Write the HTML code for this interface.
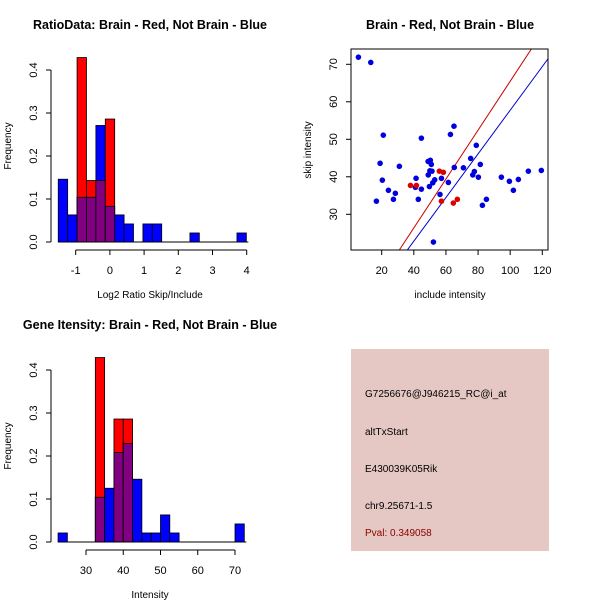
<!DOCTYPE html>
<html><head><meta charset="utf-8"><style>
html,body{margin:0;padding:0;background:#fff;}
svg{display:block;font-family:"Liberation Sans",Arial,sans-serif;}
</style></head><body>
<svg id="chart" width="600" height="600" viewBox="0 0 600 600">
<rect x="0" y="0" width="600" height="600" fill="#fff"/>
<text x="150" y="29" font-size="12.5" font-weight="bold" text-anchor="middle">RatioData: Brain - Red, Not Brain - Blue</text>
<text x="150" y="298" font-size="10" text-anchor="middle">Log2 Ratio Skip/Include</text>
<text x="0" y="0" font-size="10" text-anchor="middle" transform="translate(11,146) rotate(-90)">Frequency</text>
<text x="450" y="29" font-size="12.5" font-weight="bold" text-anchor="middle">Brain - Red, Not Brain - Blue</text>
<text x="450" y="298" font-size="10" text-anchor="middle">include intensity</text>
<text x="0" y="0" font-size="10" text-anchor="middle" transform="translate(311,150) rotate(-90)">skip intensity</text>
<text x="150" y="329" font-size="12.5" font-weight="bold" text-anchor="middle">Gene Itensity: Brain - Red, Not Brain - Blue</text>
<text x="150" y="598" font-size="10" text-anchor="middle">Intensity</text>
<text x="0" y="0" font-size="10" text-anchor="middle" transform="translate(11,446) rotate(-90)">Frequency</text>
<g>
<rect x="351" y="349" width="198" height="202" fill="#e5c8c3"/>
<text x="365" y="397" font-size="10">G7256676@J946215_RC@i_at</text>
<text x="365" y="435" font-size="10">altTxStart</text>
<text x="365" y="472" font-size="10">E430039K05Rik</text>
<text x="365" y="509" font-size="10">chr9.25671-1.5</text>
<text x="365" y="536" font-size="10" fill="#8b0000">Pval: 0.349058</text>
</g>
</svg>
<script>
// ratio histogram data
const ratioBinStart = -1.51;
const ratioBinWidth = 0.275;
const ratioBlue = [0.146,0.063,0.104,0.104,0.271,0.083,0.063,0.042,0,0.042,0.042,0,0,0,0.021,0,0,0,0,0.021];
const ratioRed  = [0,0,0.429,0.143,0.143,0.286,0,0,0,0,0,0,0,0,0,0,0,0,0,0];
const ratioXTicks = [-1,0,1,2,3,4];
const freqTicks = [0,0.1,0.2,0.3,0.4];
// intensity histogram data
const intBinStart = 22.5;
const intBinWidth = 2.5;
const intBlue = [0.021,0,0,0,0.104,0.125,0.208,0.229,0.146,0.021,0.021,0.063,0.021,0,0,0,0,0,0,0.042];
const intRed  = [0,0,0,0,0.429,0,0.286,0.286,0,0,0,0,0,0,0,0,0,0,0,0];
const intXTicks = [30,40,50,60,70];
// scatter data
const blueX = [5.5,13.2,21,19,20.4,16.7,24.2,28.5,27.3,31,41.4,41,42.8,44.7,44.7,48.9,50.3,50.9,49,50,51.3,49.7,51.8,53,52.2,56.3,57.2,61.5,62.8,65,65.2,70.9,75.4,76.7,77.7,78.9,80.2,81.4,82.7,85.2,94.5,99.5,102,105.1,111.3,119.4];
const blueY = [71.9,70.5,51.1,43.6,39.1,33.5,36.4,35.6,34,42.8,39.6,37.2,34,36.7,50.3,44.1,44.4,43.3,40.5,41.6,41.5,37.4,38.4,39.2,22.6,35.3,39.6,38.5,51.3,53.5,42.5,42.4,44.9,40.5,41.4,48.4,39.9,43.3,32.4,34,39.9,38.8,36.4,39.3,41.5,41.7];
const redX = [37.9,41.6,55.9,58.4,57.2,64.6,67.1];
const redY = [37.7,37.7,41.5,41.2,33.5,33,34];
const redLine = [0.28,0.652];
const blueLine = [-0.45,0.582];
const scXTicks = [20,40,60,80,100,120];
const scYTicks = [30,40,50,60,70];

const svg = document.getElementById('chart');
const NS = 'http://www.w3.org/2000/svg';
function mk(tag, attrs, parent){
  const e = document.createElementNS(NS, tag);
  for (const k in attrs) e.setAttribute(k, attrs[k]);
  (parent||svg).appendChild(e);
  return e;
}

function drawHist(opts){
  const g = mk('g', {});
  
  
  const xs = v => opts.x0px + (v - opts.x0) * opts.xScale;
  const ys = v => opts.y0px - v * opts.yScale;
  const n = opts.blue.length;
  for (let i = 0; i < n; i++) {
    const l = xs(opts.start + i*opts.width), r = xs(opts.start + (i+1)*opts.width);
    const b = opts.blue[i], rd = opts.red[i];
    if (b > 0) {
      const e = mk('rect', {x:l, y:ys(b), width:r-l, height:ys(0)-ys(b), fill:'#0000ff', stroke:'#000', 'stroke-width':0.8}, g);
      
      
    }
    if (rd > 0) {
      const e = mk('rect', {x:l, y:ys(rd), width:r-l, height:ys(0)-ys(rd), fill:'#ff0000', stroke:'#000', 'stroke-width':0.8}, g);
      
      
    }
    const m = Math.min(b, rd);
    if (m > 0) {
      const e = mk('rect', {x:l, y:ys(m), width:r-l, height:ys(0)-ys(m), fill:'#800080', stroke:'#000', 'stroke-width':0.8}, g);
      
      
    }
  }
  mk('line', {x1:xs(opts.start), x2:xs(opts.start+n*opts.width)+2, y1:ys(0), y2:ys(0), stroke:'#000'}, g);
  const ya = mk('g', {}, g);
  
  
  const ax = opts.yAxisX;
  mk('line', {x1:ax, x2:ax, y1:ys(freqTicks[0]), y2:ys(freqTicks[freqTicks.length-1]), stroke:'#000'}, ya);
  freqTicks.forEach(t => {
    mk('line', {x1:ax-5, x2:ax, y1:ys(t), y2:ys(t), stroke:'#000'}, ya);
    const tx = mk('text', {x:0, y:0, 'font-size':11, 'text-anchor':'middle', transform:`translate(${ax-14},${ys(t)}) rotate(-90)`}, ya);
    tx.textContent = t.toFixed(1);
  });
  const xa = mk('g', {}, g);
  
  
  const ay = opts.xAxisY;
  const xt = opts.xTicks;
  mk('line', {x1:xs(xt[0]), x2:xs(xt[xt.length-1]), y1:ay, y2:ay, stroke:'#000'}, xa);
  xt.forEach(t => {
    mk('line', {x1:xs(t), x2:xs(t), y1:ay, y2:ay+5, stroke:'#000'}, xa);
    const tx = mk('text', {x:xs(t), y:ay+24, 'font-size':11, 'text-anchor':'middle'}, xa);
    tx.textContent = t;
  });
}

drawHist({name:'ratio-histogram', blue:ratioBlue, red:ratioRed, start:ratioBinStart, width:ratioBinWidth,
  x0:-1, x0px:75.7, xScale:34.2, y0px:242, yScale:430, yAxisX:51, xAxisY:250, xTicks:ratioXTicks});
drawHist({name:'intensity-histogram', blue:intBlue, red:intRed, start:intBinStart, width:intBinWidth,
  x0:30, x0px:86, xScale:3.725, y0px:542, yScale:430, yAxisX:51, xAxisY:550, xTicks:intXTicks});

(function(){
  const g = mk('g', {});
  
  
  const xs = v => 381.7 + (v - 20) * 1.606;
  const ys = v => 214.3 - (v - 30) * 3.75;
  const box = {x:351, y:49, w:197, h:201};
  const defs = mk('defs', {}, g);
  const cp = mk('clipPath', {id:'scclip'}, defs);
  mk('rect', {x:box.x, y:box.y, width:box.w, height:box.h}, cp);
  const lines = mk('g', {'clip-path':'url(#scclip)'}, g);
  [[redLine,'#cc0000','red-fit-line'],[blueLine,'#0000cc','blue-fit-line']].forEach(([c,col,nm]) => {
    const xa = 0, xb = 140;
    const l = mk('line', {x1:xs(xa), y1:ys(c[0]+c[1]*xa), x2:xs(xb), y2:ys(c[0]+c[1]*xb), stroke:col, 'stroke-width':1}, lines);
    
    
  });
  blueX.forEach((x,i) => {
    const c = mk('circle', {cx:xs(x), cy:ys(blueY[i]), r:2.8, fill:'#0000dd'}, g);
    
    
  });
  redX.forEach((x,i) => {
    const c = mk('circle', {cx:xs(x), cy:ys(redY[i]), r:2.8, fill:'#dd0000'}, g);
    
    
  });
  const fr = mk('rect', {x:box.x, y:box.y, width:box.w, height:box.h, fill:'none', stroke:'#000'}, g);
  
  
  const xa = mk('g', {}, g);
  
  
  scXTicks.forEach(t => {
    mk('line', {x1:xs(t), x2:xs(t), y1:box.y+box.h, y2:box.y+box.h+5, stroke:'#000'}, xa);
    const tx = mk('text', {x:xs(t), y:box.y+box.h+24, 'font-size':11, 'text-anchor':'middle'}, xa);
    tx.textContent = t;
  });
  const ya = mk('g', {}, g);
  
  
  scYTicks.forEach(t => {
    mk('line', {x1:box.x-5, x2:box.x, y1:ys(t), y2:ys(t), stroke:'#000'}, ya);
    const tx = mk('text', {x:0, y:0, 'font-size':11, 'text-anchor':'middle', transform:`translate(${box.x-14},${ys(t)}) rotate(-90)`}, ya);
    tx.textContent = t;
  });
})();
</script>
</body></html>
